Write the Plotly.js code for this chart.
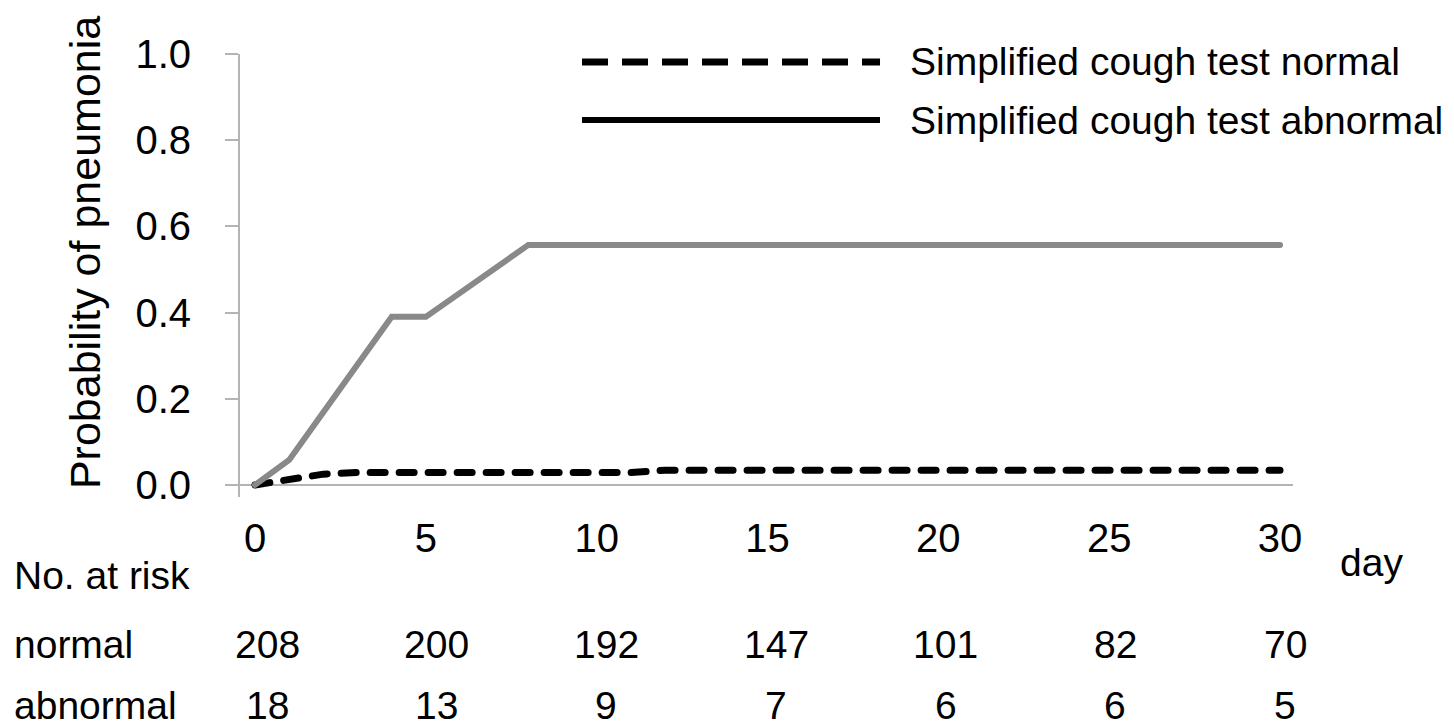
<!DOCTYPE html>
<html>
<head>
<meta charset="utf-8">
<script src="https://cdn.plot.ly/plotly-3.0.1.min.js"></script>
<style>
html, body { margin: 0; padding: 0; background: #fff; }
#chart { width: 1454px; height: 728px; }
.scatterlayer path.js-line { stroke-linecap: round; stroke-linejoin: miter; }
</style>
</head>
<body>
<div id="chart"></div>
<script>
// Data
const normalDays = [0, 1, 2, 3, 11, 12, 30];
const normalProb = [0, 0.012, 0.025, 0.029, 0.029, 0.034, 0.034];
const abnormalDays = [0, 1, 4, 5, 8, 30];
const abnormalProb = [0, 0.058, 0.39, 0.39, 0.557, 0.557];

const xTicks = [0, 5, 10, 15, 20, 25, 30];
const yTicks = [0, 0.2, 0.4, 0.6, 0.8, 1.0];
const yTickLabels = ['0.0', '0.2', '0.4', '0.6', '0.8', '1.0'];

const riskDays = [0, 5, 10, 15, 20, 25, 30];
const riskNormal = [208, 200, 192, 147, 101, 82, 70];
const riskAbnormal = [18, 13, 9, 7, 6, 6, 5];

const legendNames = ['Simplified cough test normal', 'Simplified cough test abnormal'];
const rowLabels = ['No. at risk', 'normal', 'abnormal'];

const FONT = 'Liberation Sans, Arial, Helvetica, sans-serif';
const AXIS_GREY = '#b4b4b4';

const traces = [
  {
    x: normalDays, y: normalProb, type: 'scatter', mode: 'lines',
    name: legendNames[0], showlegend: false,
    line: { color: '#000000', width: 7, dash: '15px,14px' }
  },
  {
    x: abnormalDays, y: abnormalProb, type: 'scatter', mode: 'lines',
    name: legendNames[1], showlegend: false,
    line: { color: '#898989', width: 6 }
  }
];

const annotations = [];
// number at risk table
function colShift(d) { return 12 - 7 * d / 30; }
riskDays.forEach((d, i) => {
  annotations.push({ xref: 'x', yref: 'paper', x: d, y: -0.334, xshift: colShift(d),
    text: String(riskNormal[i]), showarrow: false, xanchor: 'center', yanchor: 'middle',
    font: { family: FONT, size: 39, color: '#000' } });
  annotations.push({ xref: 'x', yref: 'paper', x: d, y: -0.47, xshift: colShift(d),
    text: String(riskAbnormal[i]), showarrow: false, xanchor: 'center', yanchor: 'middle',
    font: { family: FONT, size: 39, color: '#000' } });
});
const rowY = [-0.178, -0.334, -0.47];
rowLabels.forEach((t, i) => {
  annotations.push({ xref: 'paper', yref: 'paper', x: -0.2165, y: rowY[i], text: t,
    showarrow: false, xanchor: 'left', yanchor: 'middle',
    font: { family: FONT, size: 39, color: '#000' } });
});
// day label
annotations.push({ xref: 'paper', yref: 'paper', x: 1.075, y: -0.147, text: 'day',
  showarrow: false, xanchor: 'center', yanchor: 'middle',
  font: { family: FONT, size: 39, color: '#000' } });
// y axis title
annotations.push({ xref: 'paper', yref: 'paper', x: -0.147, y: 0.551, text: 'Probability of pneumonia',
  showarrow: false, xanchor: 'center', yanchor: 'middle', textangle: -90,
  font: { family: FONT, size: 43, color: '#000' } });
// legend texts
const legY = [0.982, 0.851];
legendNames.forEach((t, i) => {
  annotations.push({ xref: 'paper', yref: 'paper', x: 0.634, y: legY[i], text: t,
    showarrow: false, xanchor: 'left', yanchor: 'middle',
    font: { family: FONT, size: 39, color: '#000' } });
});

const shapes = [
  { type: 'line', xref: 'paper', yref: 'paper', x0: 0.3248, x1: 0.6078, y0: legY[0], y1: legY[0],
    line: { color: '#000', width: 7, dash: '26px,14px' } },
  { type: 'line', xref: 'paper', yref: 'paper', x0: 0.3248, x1: 0.6078, y0: legY[1], y1: legY[1],
    line: { color: '#000', width: 6 } }
];

const layout = {
  width: 1454, height: 728,
  paper_bgcolor: '#ffffff', plot_bgcolor: '#ffffff',
  margin: { l: 240, r: 161, t: 54, b: 231, pad: 0 },
  showlegend: false,
  font: { family: FONT, size: 39, color: '#000' },
  xaxis: {
    range: [-0.44, 30.38], tickvals: xTicks, ticktext: xTicks.map(String),
    showgrid: false, zeroline: false, showline: false, ticks: '',
    ticklabelstandoff: 14,
    tickfont: { family: FONT, size: 40, color: '#000' }
  },
  yaxis: {
    range: [-0.028, 1.0], tickvals: yTicks, ticktext: yTickLabels,
    showgrid: false, zeroline: true, zerolinecolor: AXIS_GREY, zerolinewidth: 2,
    showline: true, linecolor: AXIS_GREY, linewidth: 2,
    ticks: 'outside', ticklen: 13, tickwidth: 2, tickcolor: AXIS_GREY,
    ticklabelstandoff: 26,
    tickfont: { family: FONT, size: 40, color: '#000' }
  },
  annotations: annotations,
  shapes: shapes
};

Plotly.newPlot('chart', traces, layout, { displayModeBar: false, staticPlot: true });
</script>
</body>
</html>
